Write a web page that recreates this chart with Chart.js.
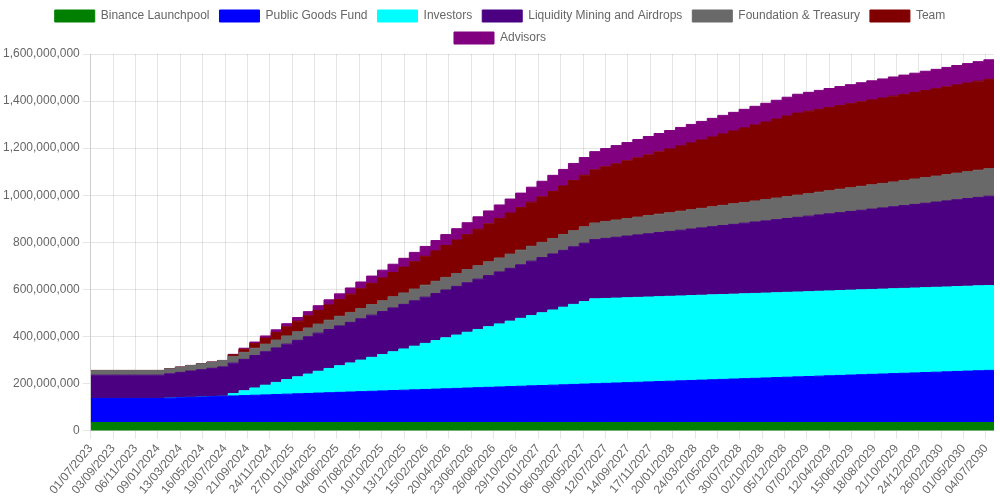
<!DOCTYPE html>
<html lang="en">
<head>
  <meta charset="UTF-8" />
  <title>Token Unlock Schedule</title>
  <style>
    html, body { margin: 0; padding: 0; background: #fff; }
    #wrap { width: 1000px; height: 500px; }
  </style>
</head>
<body>
  <div id="wrap"><canvas id="unlockChart"></canvas></div>

  <script src="https://cdn.jsdelivr.net/npm/chart.js@4.4.1/dist/chart.umd.min.js"></script>

  <script>
    // x axis: chart start, monthly unlocks on the 28th, chart end
    const startDate = "2023-07-01";
    const endDate = "2030-07-27";
    const firstUnlock = [2024, 1];   // year, month
    const lastUnlock = [2030, 6];
    const tickEveryDays = 64;

    const seriesNames = [
      "Binance Launchpool", "Public Goods Fund", "Investors",
      "Liquidity Mining and Airdrops", "Foundation & Treasury", "Team", "Advisors"
    ];
    const seriesColors = ["#008000", "#0000ff", "#00ffff", "#4b0082", "#696969", "#800000", "#800080"];

    // cumulative unlocked, in millions (start point, each unlock, end point)
    const launchpool = [
      35, 35, 35, 35, 35, 35, 35, 35, 35, 35,
      35, 35, 35, 35, 35, 35, 35, 35, 35, 35,
      35, 35, 35, 35, 35, 35, 35, 35, 35, 35,
      35, 35, 35, 35, 35, 35, 35, 35, 35, 35,
      35, 35, 35, 35, 35, 35, 35, 35, 35, 35,
      35, 35, 35, 35, 35, 35, 35, 35, 35, 35,
      35, 35, 35, 35, 35, 35, 35, 35, 35, 35,
      35, 35, 35, 35, 35, 35, 35, 35, 35, 35
    ];
    const publicGoods = [
      102, 103.5, 105.1, 106.6, 108.1, 109.7, 111.2, 112.7, 114.2, 115.8,
      117.3, 118.8, 120.4, 121.9, 123.4, 125, 126.5, 128, 129.5, 131.1,
      132.6, 134.1, 135.7, 137.2, 138.7, 140.3, 141.8, 143.3, 144.8, 146.4,
      147.9, 149.4, 151, 152.5, 154, 155.6, 157.1, 158.6, 160.1, 161.7,
      163.2, 164.7, 166.3, 167.8, 169.3, 170.9, 172.4, 173.9, 175.4, 177,
      178.5, 180, 181.6, 183.1, 184.6, 186.2, 187.7, 189.2, 190.7, 192.3,
      193.8, 195.3, 196.9, 198.4, 199.9, 201.5, 203, 204.5, 206, 207.6,
      209.1, 210.6, 212.2, 213.7, 215.2, 216.8, 218.3, 219.8, 221.3, 221.3
    ];
    const investors = [
      0, 0, 0, 0, 0, 0, 0, 10.3, 20.6, 30.9,
      41.2, 51.5, 61.8, 72.1, 82.4, 92.7, 103, 113.3, 123.6, 133.9,
      144.2, 154.5, 164.8, 175.1, 185.4, 195.7, 206, 216.3, 226.6, 236.9,
      247.2, 257.5, 267.8, 278.1, 288.4, 298.7, 309, 319.3, 329.6, 339.9,
      350.2, 360.5, 360.5, 360.5, 360.5, 360.5, 360.5, 360.5, 360.5, 360.5,
      360.5, 360.5, 360.5, 360.5, 360.5, 360.5, 360.5, 360.5, 360.5, 360.5,
      360.5, 360.5, 360.5, 360.5, 360.5, 360.5, 360.5, 360.5, 360.5, 360.5,
      360.5, 360.5, 360.5, 360.5, 360.5, 360.5, 360.5, 360.5, 360.5, 360.5
    ];
    const liquidityMining = [
      99, 103.3, 107.6, 111.9, 116.2, 120.5, 124.8, 129.1, 133.4, 137.7,
      142, 146.3, 150.6, 154.9, 158.4, 161.8, 165.3, 168.7, 172.2, 175.6,
      179.1, 182.5, 186, 189.4, 192.9, 196.3, 199.8, 203.2, 206.7, 210.1,
      213.6, 217, 220.5, 223.9, 227.4, 230.8, 234.3, 237.7, 241.2, 244.6,
      248.1, 251.5, 255, 258.4, 261.9, 265.3, 268.8, 272.2, 275.7, 279.1,
      282.6, 286, 289.5, 292.9, 296.4, 299.8, 303.3, 306.7, 310.2, 313.6,
      317.1, 320.5, 324, 327.4, 330.9, 334.3, 337.8, 341.2, 344.7, 348.1,
      351.6, 355, 358.5, 361.9, 365.4, 368.8, 372.3, 375.7, 379.2, 379.2
    ];
    const foundation = [
      20, 21.2, 22.5, 23.7, 25, 26.2, 27.4, 28.7, 29.9, 31.2,
      32.4, 33.6, 34.9, 36.1, 37.4, 38.6, 39.8, 41.1, 42.3, 43.6,
      44.8, 46, 47.3, 48.5, 49.8, 51, 52.2, 53.5, 54.7, 56,
      57.2, 58.4, 59.7, 60.9, 62.2, 63.4, 64.6, 65.9, 67.1, 68.4,
      69.6, 70.8, 72.1, 73.3, 74.6, 75.8, 77, 78.3, 79.5, 80.8,
      82, 83.2, 84.5, 85.7, 87, 88.2, 89.4, 90.7, 91.9, 93.2,
      94.4, 95.6, 96.9, 98.1, 99.4, 100.6, 101.8, 103.1, 104.3, 105.6,
      106.8, 108, 109.3, 110.5, 111.8, 113, 114.2, 115.5, 116.7, 116.7
    ];
    const team = [
      0, 0, 0, 0, 0, 0, 0, 6.5, 12.9, 19.4,
      25.8, 32.3, 38.7, 45.2, 51.6, 58.1, 64.5, 71, 77.4, 83.9,
      90.3, 96.8, 103.2, 109.7, 116.1, 122.6, 129, 135.5, 141.9, 148.4,
      154.8, 161.3, 167.7, 174.2, 180.6, 187.1, 193.5, 200, 206.4, 212.9,
      219.3, 225.8, 232.2, 238.7, 245.1, 251.6, 258, 264.5, 270.9, 277.4,
      283.8, 290.3, 296.7, 303.2, 309.6, 316.1, 322.5, 329, 335.4, 341.9,
      348.3, 350.1, 351.8, 353.6, 355.3, 357.1, 358.8, 360.6, 362.3, 364.1,
      365.8, 367.6, 369.3, 371.1, 372.8, 374.6, 376.3, 378.1, 379.8, 379.8
    ];
    const advisors = [
      0, 0, 0, 0, 0, 0, 0, 2.2, 4.4, 6.6,
      8.8, 11, 13.2, 15.4, 17.6, 19.8, 22, 24.2, 26.4, 28.6,
      30.8, 33, 35.2, 37.4, 39.6, 41.8, 44, 46.2, 48.4, 50.6,
      52.8, 55, 57.2, 59.4, 61.6, 63.8, 66, 68.2, 70.4, 72.6,
      74.8, 77, 77.2, 77.3, 77.5, 77.6, 77.8, 78, 78.1, 78.3,
      78.4, 78.6, 78.8, 78.9, 79.1, 79.2, 79.4, 79.6, 79.7, 79.9,
      80, 80.2, 80.4, 80.5, 80.7, 80.8, 81, 81.2, 81.3, 81.5,
      81.6, 81.8, 82, 82.1, 82.3, 82.4, 82.6, 82.8, 82.9, 82.9
    ];

    const seriesValues = [launchpool, publicGoods, investors, liquidityMining, foundation, team, advisors];

    // build the date list: start, the 28th of every month, end
    const pad = n => String(n).padStart(2, "0");
    const pointDates = [startDate];
    for (let y = firstUnlock[0], m = firstUnlock[1]; y < lastUnlock[0] || (y === lastUnlock[0] && m <= lastUnlock[1]); ) {
      pointDates.push(`${y}-${pad(m)}-28`);
      m++;
      if (m > 12) { m = 1; y++; }
    }
    pointDates.push(endDate);

    const DAY = 86400000;
    const t0 = Date.parse(startDate);
    const dayOf = d => Math.round((Date.parse(d) - t0) / DAY);
    const pointDays = pointDates.map(dayOf);
    const lastDay = dayOf(endDate);

    const tickDays = [];
    for (let d = 0; d <= lastDay; d += tickEveryDays) tickDays.push(d);

    function fmtDay(d) {
      const dt = new Date(t0 + d * DAY);
      return `${pad(dt.getUTCDate())}/${pad(dt.getUTCMonth() + 1)}/${dt.getUTCFullYear()}`;
    }

    const datasets = seriesNames.map((name, i) => ({
      label: name,
      data: pointDays.map((d, k) => ({ x: d, y: seriesValues[i][k] * 1e6 })),
      backgroundColor: seriesColors[i],
      borderColor: seriesColors[i],
      borderWidth: 1,
      pointRadius: 0,
      stepped: true,
      fill: i === 0 ? "origin" : "-1"
    }));

    const ctx = document.getElementById("unlockChart").getContext("2d");
    new Chart(ctx, {
      type: "line",
      data: { datasets },
      options: {
        responsive: true,
        maintainAspectRatio: false,
        animation: false,
        plugins: {
          legend: { position: "top" },
          tooltip: { enabled: false }
        },
        scales: {
          x: {
            type: "linear",
            min: 0,
            max: lastDay,
            afterBuildTicks: axis => { axis.ticks = tickDays.map(v => ({ value: v })); },
            ticks: {
              autoSkip: false,
              minRotation: 50,
              maxRotation: 50,
              callback: v => fmtDay(v)
            }
          },
          y: {
            stacked: true,
            beginAtZero: true
          }
        }
      }
    });
  </script>
</body>
</html>
